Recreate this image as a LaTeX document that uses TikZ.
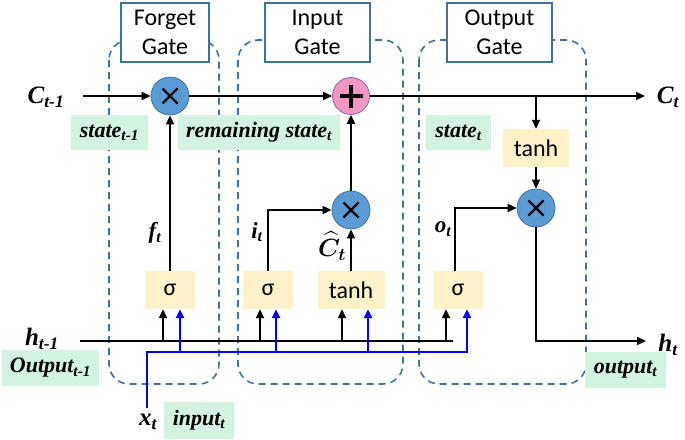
\documentclass[tikz,border=0pt]{standalone}
\usepackage{amsmath}
\usepackage{fontspec}
\setmainfont{Liberation Serif}
\newfontfamily\carl{Carlito}
\usetikzlibrary{arrows.meta}
\definecolor{cblue}{RGB}{91,155,213}
\definecolor{cblueb}{RGB}{65,113,156}
\definecolor{cpink}{RGB}{242,150,196}
\definecolor{cpinkb}{RGB}{120,110,170}
\definecolor{cyel}{RGB}{255,242,200}
\definecolor{cgrn}{RGB}{210,243,224}
\definecolor{cdash}{RGB}{65,113,156}
\begin{document}
\begin{tikzpicture}[x=1pt,y=-1pt,
  gatebox/.style={draw=cdash,line width=1.6pt,dash pattern=on 7pt off 5pt,rounded corners=20pt},
  title/.style={draw=cblueb,line width=1.3pt,fill=white,align=center,inner sep=0pt,
    minimum height=59pt,font=\carl\fontsize{24}{29}\selectfont},
  mult/.style={circle,fill=cblue,draw=cblueb,line width=0.8pt,minimum size=38pt,inner sep=0pt,
    path picture={
      \draw[black,line width=2.4pt] ([shift={(-7.5pt,-7.5pt)}]path picture bounding box.center) -- ++(15pt,15pt);
      \draw[black,line width=2.4pt] ([shift={(-7.5pt,7.5pt)}]path picture bounding box.center) -- ++(15pt,-15pt);}},
  plusc/.style={circle,fill=cpink,draw=cpinkb,line width=0.8pt,minimum size=37pt,inner sep=0pt,
    path picture={
      \draw[black,line width=4.2pt] ([xshift=-11.5pt]path picture bounding box.center) -- ++(23pt,0pt);
      \draw[black,line width=4.2pt] ([yshift=-11.5pt]path picture bounding box.center) -- ++(0pt,23pt);}},
  yel/.style={fill=cyel,minimum height=38pt,inner sep=0pt,font=\carl\fontsize{24}{24}\selectfont},
  grn/.style={fill=cgrn,inner sep=0pt,font=\bfseries\itshape\fontsize{22}{22}\selectfont},
  lab/.style={inner sep=0pt,font=\bfseries\itshape\fontsize{25}{25}\selectfont},
  labs/.style={inner sep=0pt,font=\bfseries\itshape\fontsize{23}{23}\selectfont},
  arr/.style={line width=1.8pt,-{Triangle[length=9pt,width=8pt]}},
  barr/.style={line width=2.4pt,blue,-{Triangle[length=9pt,width=8pt]}},
  blk/.style={line width=1.8pt},
]
\useasboundingbox (0,0) rectangle (685,439);

% gate regions
\draw[gatebox] (109,40) rectangle (219,384);
\draw[gatebox] (238,40) rectangle (403,384);
\draw[gatebox] (419,40) rectangle (586,384);

\node[title,minimum width=88pt] (tf) at (165,32.5) {Forget\\Gate};
\node[title,minimum width=105pt] (ti) at (317.5,32.5) {Input\\Gate};
\node[title,minimum width=105pt] (to) at (499.5,32.5) {Output\\Gate};

% operators
\node[mult] (fx) at (170,96) {};
\node[plusc] (plus) at (351,96) {};
\node[mult] (ix) at (351,210) {};
\node[mult] (ox) at (536,208) {};

% activation boxes
\node[yel,minimum width=50pt] (fs) at (170,290) {σ};
\node[yel,minimum width=50pt] (is) at (268,290) {σ};
\node[yel,minimum width=67pt] (tanh1) at (351,290) {tanh};
\node[yel,minimum width=50pt] (os) at (458,290) {σ};
\node[yel,minimum width=66pt] (tanh2) at (536,148) {tanh};

% green labels
\node[grn,minimum width=77pt,minimum height=35pt] (gs1) at (109.5,132.5) {state\textsubscript{t-1}};
\node[grn,minimum width=162pt,minimum height=35pt] (grs) at (259,132.5) {remaining state\textsubscript{t}};
\node[grn,minimum width=65pt,minimum height=35pt] (gst) at (458.5,132.5) {state\textsubscript{t}};
\node[grn,minimum width=97pt,minimum height=36pt] (gout1) at (50.5,368) {Output\textsubscript{t-1}};
\node[grn,minimum width=70pt,minimum height=37pt] (ginp) at (199,420.5) {input\textsubscript{t}};
\node[grn,minimum width=81pt,minimum height=36pt] (goutt) at (625.5,370) {output\textsubscript{t}};

% variable labels
\node[lab] (ctm) at (46,97) {C\textsubscript{t-1}};
\node[lab] (ct) at (668,97) {C\textsubscript{t}};
\node[lab] (htm) at (42,339) {h\textsubscript{t-1}};
\node[lab] (ht) at (668,345) {h\textsubscript{t}};
\node[lab] (xtl) at (148,422) {x\textsubscript{t}};
\node[labs] (ftl) at (155,233) {f\textsubscript{t}};
\node[labs] (itl) at (257,232) {i\textsubscript{t}};
\node[labs] (otl) at (443,229) {o\textsubscript{t}};
\node[inner sep=0pt,font=\fontsize{24}{24}\selectfont] (chat) at (332,246) {$\boldsymbol{\widehat{C}_t}$};

% cell state line
\coordinate (cin) at (83,96);
\coordinate (cout) at (645,96);
\coordinate (cb) at (536,96);
\draw[arr] (cin) -- (fx);
\draw[arr] (fx) -- (plus);
\draw[arr] (plus) -- (cout);
\draw[arr] (cb) -- (tanh2);
\draw[arr] (tanh2) -- (ox);
\coordinate (hout) at (646,341);
\draw[arr] (ox.south) |- (hout);

% gates
\draw[arr] (fs) -- (fx);
\draw[arr] (is.north) |- (ix.west);
\draw[arr] (tanh1) -- (ix);
\draw[arr] (ix) -- (plus);
\draw[arr] ([xshift=-3pt]os.north) |- (ox.west);

% h_{t-1} bus
\coordinate (hin) at (80,341);
\coordinate (hend) at (453,341);
\draw[blk] (hin) -- (hend);
\coordinate (h1) at (163,341);
\coordinate (h2) at (260,341);
\coordinate (h3) at (342,341);
\coordinate (h4) at (446,341);
\draw[arr] (h1) -- (h1 |- fs.south);
\draw[arr] (h2) -- (h2 |- is.south);
\draw[arr] (h3) -- (h3 |- tanh1.south);
\draw[arr] (h4) -- (h4 |- os.south);

% x_t bus
\coordinate (xt) at (147,408);
\coordinate (b1) at (180,352);
\coordinate (b2) at (276,352);
\coordinate (b3) at (368,352);
\coordinate (b4) at (467,352);
\draw[barr] (xt) |- (b4) -- (b4 |- os.south);
\draw[barr] (b1) -- (b1 |- fs.south);
\draw[barr] (b2) -- (b2 |- is.south);
\draw[barr] (b3) -- (b3 |- tanh1.south);
\end{tikzpicture}
\end{document}
